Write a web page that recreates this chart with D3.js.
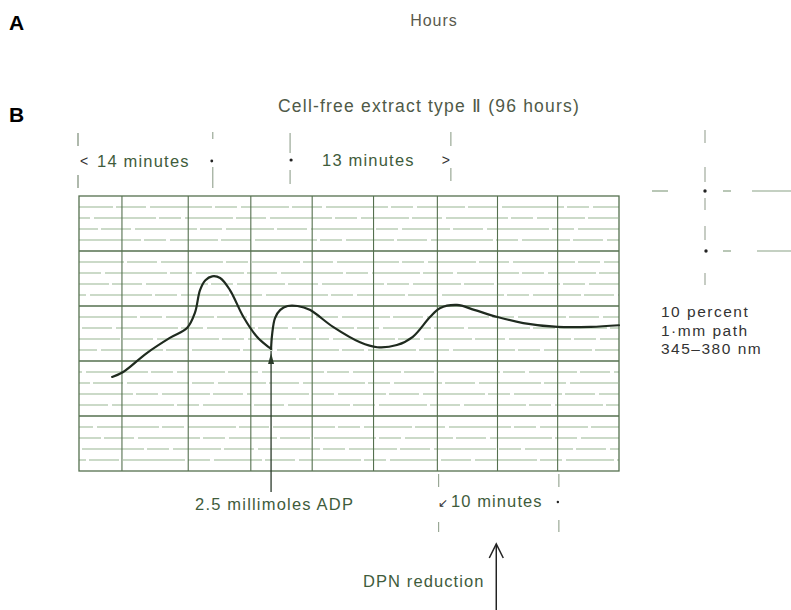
<!DOCTYPE html>
<html>
<head>
<meta charset="utf-8">
<script src="https://cdn.jsdelivr.net/npm/d3@7"></script>
<style>
  body { margin: 0; background: #fff; }
  text { font-family: "Liberation Sans", Arial, sans-serif; }
</style>
</head>
<body>
<div id="chart"></div>
<script>
// recorder trace: time in minutes, absorbance in minor chart divisions
const traceMinutes = [2.7, 3.6, 5.5, 7.4, 8.8, 9.45, 9.86, 10.3, 10.85, 11.5, 12.3, 13.4, 14.5, 15.4, 15.65,
  15.73, 15.97, 16.4, 17.0, 17.8, 18.8, 20.7, 22.9, 24.3, 25.9, 27.2, 28.6, 29.4, 30.8, 32.2, 34.1, 36.2, 39.0, 41.7, 44.0];
const traceValues = [8.55, 9.0, 10.7, 12.1, 13.0, 14.4, 16.45, 17.35, 17.7, 17.55, 16.45, 14.0, 12.2, 11.3, 11.1,
  12.35, 13.9, 14.65, 15.0, 15.0, 14.65, 13.1, 11.7, 11.25, 11.45, 12.2, 14.0, 14.8, 15.1, 14.65, 14.0, 13.45, 13.1, 13.1, 13.25];
const dipIndex = 14; // ADP added here

// chart paper
const paperMinutes = [0, 44];
const paperDivisions = [0, 25];
const verticalRules = [3.5, 8.9, 14, 19, 24, 29.2, 34.1, 39];
const horizontalRules = d3.range(1, 25);

// time brackets
const bracketsTop = [
  { from: 0, to: 10.9, label: "14 minutes" },
  { from: 17.2, to: 30.3, label: "13 minutes" }
];
const bracketBottom = { from: 29.3, to: 39.1, label: "10 minutes" };
const dpnMinute = 34.0;
const pathNotes = ["10 percent", "1\u00b7mm path", "345\u2013380 nm"];

const width = 791;
const height = 610;
const margin = { left: 79, right: 172, top: 196, bottom: 139 };

const svg = d3.select("#chart")
    .append("svg")
    .attr("width", width)
    .attr("height", height);

const x = d3.scaleLinear().domain(paperMinutes).range([margin.left, width - margin.right]);
const y = d3.scaleLinear().domain(paperDivisions).range([height - margin.bottom, margin.top]);

const ink = "#3f5c3c";
const gridDark = "#55704f";
const gridLight = "#98b592";

// horizontal rules (broken, every fifth darker)
svg.append("g")
    .selectAll("line")
    .data(horizontalRules)
    .join("line")
    .attr("x1", x(paperMinutes[0]))
    .attr("x2", x(paperMinutes[1]))
    .attr("y1", d => y(d))
    .attr("y2", d => y(d))
    .attr("stroke", d => d % 5 === 0 ? gridDark : gridLight)
    .attr("stroke-width", d => d % 5 === 0 ? 1.3 : 1.2)
    .attr("stroke-dasharray", d => d % 5 === 0 ? null : "48,3,30,4,62,3,22,4")
    .attr("stroke-dashoffset", d => (d * 41) % 97);

// vertical rules
svg.append("g")
    .selectAll("line")
    .data(verticalRules)
    .join("line")
    .attr("x1", d => x(d))
    .attr("x2", d => x(d))
    .attr("y1", y(paperDivisions[1]))
    .attr("y2", y(paperDivisions[0]))
    .attr("stroke", gridDark)
    .attr("stroke-width", 1.1);

// paper frame
svg.append("rect")
    .attr("x", x(paperMinutes[0]))
    .attr("y", y(paperDivisions[1]))
    .attr("width", x(paperMinutes[1]) - x(paperMinutes[0]))
    .attr("height", y(paperDivisions[0]) - y(paperDivisions[1]))
    .attr("fill", "none")
    .attr("stroke", gridDark)
    .attr("stroke-width", 1.3);

// trace, split at ADP cusp
const trace = traceMinutes.map((t, i) => ({ t: t, v: traceValues[i] }));
const line = d3.line()
    .x(d => x(d.t))
    .y(d => y(d.v))
    .curve(d3.curveCatmullRom.alpha(0.5));

[trace.slice(0, dipIndex + 1), trace.slice(dipIndex)].forEach(seg => {
    svg.append("path")
        .datum(seg)
        .attr("fill", "none")
        .attr("stroke", "#1f2b1f")
        .attr("stroke-width", 2.2)
        .attr("stroke-linecap", "round")
        .attr("d", line);
});

// ADP arrow
const dip = trace[dipIndex];
svg.append("line")
    .attr("x1", x(dip.t)).attr("x2", x(dip.t))
    .attr("y1", y(dip.v) + 2).attr("y2", 492)
    .attr("stroke", "#2a3a2a").attr("stroke-width", 1.3);
svg.append("path")
    .attr("d", `M${x(dip.t)},${y(dip.v) + 4} l-3,11 l6,0 z`)
    .attr("fill", "#2a3a2a");

svg.append("text")
    .attr("x", 195).attr("y", 510)
    .attr("fill", ink)
    .style("font-size", "16.5px")
    .style("letter-spacing", "1.2px")
    .text("2.5 millimoles ADP");

// dashed tick helper
function tick(px, segs, color) {
    segs.forEach(s => {
        svg.append("line")
            .attr("x1", px).attr("x2", px)
            .attr("y1", s[0]).attr("y2", s[1])
            .attr("stroke", color || "#9aa896")
            .attr("stroke-width", 1.2);
    });
}

// top brackets
const b1 = bracketsTop[0], b2 = bracketsTop[1];
tick(x(b1.from) - 1, [[133, 146], [175, 188]], "#7a8a76");
tick(x(b1.to), [[132, 139], [167, 188]]);
tick(x(b2.from), [[133, 153], [170, 184]]);
tick(x(b2.to), [[132, 146], [168, 181]]);

svg.append("text").attr("x", x(b1.from) + 1).attr("y", 166)
    .attr("fill", "#333").style("font-size", "14px").text("<");
svg.append("text").attr("x", 97).attr("y", 167)
    .attr("fill", ink).style("font-size", "16.5px").style("letter-spacing", "1.2px")
    .text(b1.label);
svg.append("circle").attr("cx", x(b1.to) - 1).attr("cy", 161).attr("r", 1.4).attr("fill", "#222");
svg.append("circle").attr("cx", x(b2.from) + 1).attr("cy", 160).attr("r", 1.6).attr("fill", "#222");
svg.append("text").attr("x", 322).attr("y", 166)
    .attr("fill", ink).style("font-size", "16.5px").style("letter-spacing", "1.2px")
    .text(b2.label);
svg.append("text").attr("x", x(b2.to) - 9).attr("y", 165)
    .attr("fill", "#333").style("font-size", "14px").text(">");

// bottom bracket
tick(x(bracketBottom.from), [[474, 487], [522, 532]]);
tick(x(bracketBottom.to), [[474, 487], [520, 532]]);
svg.append("text").attr("x", x(bracketBottom.from) - 1).attr("y", 507)
    .attr("fill", "#333").style("font-size", "12px").text("\u2199");
svg.append("text").attr("x", 451).attr("y", 507)
    .attr("fill", ink).style("font-size", "16.5px").style("letter-spacing", "1.1px")
    .text(bracketBottom.label);
svg.append("circle").attr("cx", x(bracketBottom.to) - 1).attr("cy", 502).attr("r", 1.2).attr("fill", "#222");

// DPN reduction arrow
const dx = x(dpnMinute);
svg.append("line").attr("x1", dx).attr("x2", dx).attr("y1", 545).attr("y2", 610)
    .attr("stroke", "#222").attr("stroke-width", 1.5);
svg.append("path").attr("d", `M${dx - 7},${558} L${dx},${544} L${dx + 7},${558}`)
    .attr("fill", "none").attr("stroke", "#222").attr("stroke-width", 1.5);
svg.append("text").attr("x", 363).attr("y", 587)
    .attr("fill", ink).style("font-size", "16.5px").style("letter-spacing", "1.1px")
    .text("DPN reduction");

// right-hand scale marks
tick(705, [[130, 143], [167, 182], [198, 210], [226, 240], [273, 285]], "#a0aa9c");
svg.append("circle").attr("cx", 705).attr("cy", 191).attr("r", 1.7).attr("fill", "#222");
svg.append("circle").attr("cx", 706).attr("cy", 251).attr("r", 1.7).attr("fill", "#222");
[[652, 668], [723, 731], [752, 791]].forEach(s => {
    svg.append("line").attr("x1", s[0]).attr("x2", s[1]).attr("y1", 191).attr("y2", 191)
        .attr("stroke", "#8aa286").attr("stroke-width", 1.2);
});
[[723, 731], [757, 791]].forEach(s => {
    svg.append("line").attr("x1", s[0]).attr("x2", s[1]).attr("y1", 251).attr("y2", 251)
        .attr("stroke", "#8aa286").attr("stroke-width", 1.2);
});

pathNotes.forEach((t, i) => {
    svg.append("text").attr("x", 661).attr("y", 317 + i * 18.5)
        .attr("fill", "#333").style("font-size", "15.5px").style("letter-spacing", "1.5px")
        .text(t);
});

// titles
svg.append("text").attr("x", 434).attr("y", 26).attr("text-anchor", "middle")
    .attr("fill", "#5a5a4e").style("font-size", "16px").style("letter-spacing", "1px").text("Hours");
svg.append("text").attr("x", 429).attr("y", 112).attr("text-anchor", "middle")
    .attr("fill", "#4f5a48").style("font-size", "17.5px").style("letter-spacing", "1.2px")
    .text("Cell-free extract type \u2161 (96 hours)");

svg.append("text").attr("x", 9).attr("y", 30)
    .attr("fill", "#000").style("font-size", "21px").style("font-weight", "bold").text("A");
svg.append("text").attr("x", 9).attr("y", 122)
    .attr("fill", "#000").style("font-size", "21px").style("font-weight", "bold").text("B");
</script>
</body>
</html>
